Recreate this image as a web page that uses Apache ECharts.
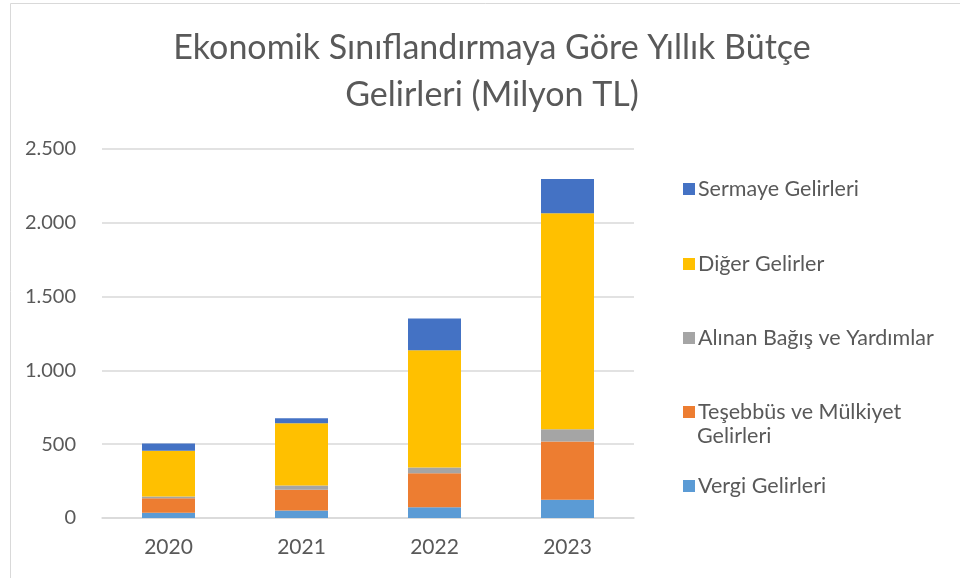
<!DOCTYPE html>
<html><head><meta charset="utf-8">
<script src="https://cdn.jsdelivr.net/npm/echarts@6/dist/echarts.min.js"></script>
<style>html,body{margin:0;padding:0;background:#fff}#c{width:960px;height:578px}</style>
</head><body><div id="c"></div>
<script>
const categories = ['2020', '2021', '2022', '2023'];
const vergi = [36, 51, 72, 124];
const tesebbus = [97, 140, 232, 394];
const bagis = [13, 29, 38, 83];
const diger = [309, 422, 795, 1464];
const sermaye = [50, 34, 214, 232];
const yTicks = [0, 500, 1000, 1500, 2000, 2500];
const seriesNames = ['Vergi Gelirleri', 'Teşebbüs ve Mülkiyet Gelirleri', 'Alınan Bağış ve Yardımlar', 'Diğer Gelirler', 'Sermaye Gelirleri'];
const colors = ['#5B9BD5', '#ED7D31', '#A5A5A5', '#FFC000', '#4472C4'];
const values = [vergi, tesebbus, bagis, diger, sermaye];

const FONT = 'Lato';
const TXT = '#595959';
const chart = echarts.init(document.getElementById('c'));

const legendTops = [187, 262, 336, 410, 484];
const legendOrder = [4, 3, 2, 1, 0];
const legends = legendOrder.map((si, i) => ({
  data: [seriesNames[si]],
  left: 678,
  top: legendTops[i] - 14,
  itemWidth: 12, itemHeight: 12,
  icon: 'rect',
  itemGap: 0,
  selectedMode: false,
  formatter: n => n === 'Teşebbüs ve Mülkiyet Gelirleri' ? 'Teşebbüs ve Mülkiyet' : n,
  textStyle: { fontFamily: FONT, fontSize: 21.5, color: TXT, padding: [0, 0, 0, -2] }
}));

chart.setOption({
  animation: false,
  color: colors,
  title: {
    text: 'Ekonomik Sınıflandırmaya Göre Yıllık Bütçe\nGelirleri (Milyon TL)',
    left: 487, textAlign: 'center', top: 20,
    textStyle: { fontFamily: FONT, fontWeight: 400, fontSize: 34, color: TXT, lineHeight: 47 }
  },
  graphic: [
    { type: 'rect', shape: { x: 10.5, y: 3.5, width: 1000, height: 1000 }, style: { fill: 'none', stroke: '#d9d9d9', lineWidth: 1 }, silent: true },
    { type: 'text', left: 697, top: 425, style: { text: 'Gelirleri', fontFamily: FONT, fontSize: 21.5, fill: TXT }, silent: true }
  ],
  legend: legends,
  grid: { left: 102, right: 326, top: 149, bottom: 60 },
  xAxis: {
    type: 'category', data: categories,
    axisLine: { lineStyle: { color: '#d9d9d9', width: 1.5 } },
    axisTick: { show: false },
    axisLabel: { fontFamily: FONT, fontSize: 21, color: TXT, margin: 19 }
  },
  yAxis: {
    type: 'value', min: yTicks[0], max: yTicks[yTicks.length - 1], interval: 500,
    axisLine: { show: false }, axisTick: { show: false },
    splitLine: { lineStyle: { color: '#d9d9d9', width: 1.5 } },
    axisLabel: { fontFamily: FONT, fontSize: 20, color: TXT, margin: 26,
      formatter: v => v.toLocaleString('de-DE') }
  },
  series: values.map((d, i) => ({
    name: seriesNames[i], type: 'bar', stack: 'total', data: d,
    barWidth: 53,
    itemStyle: { color: colors[i] }
  }))
});
</script></body></html>
